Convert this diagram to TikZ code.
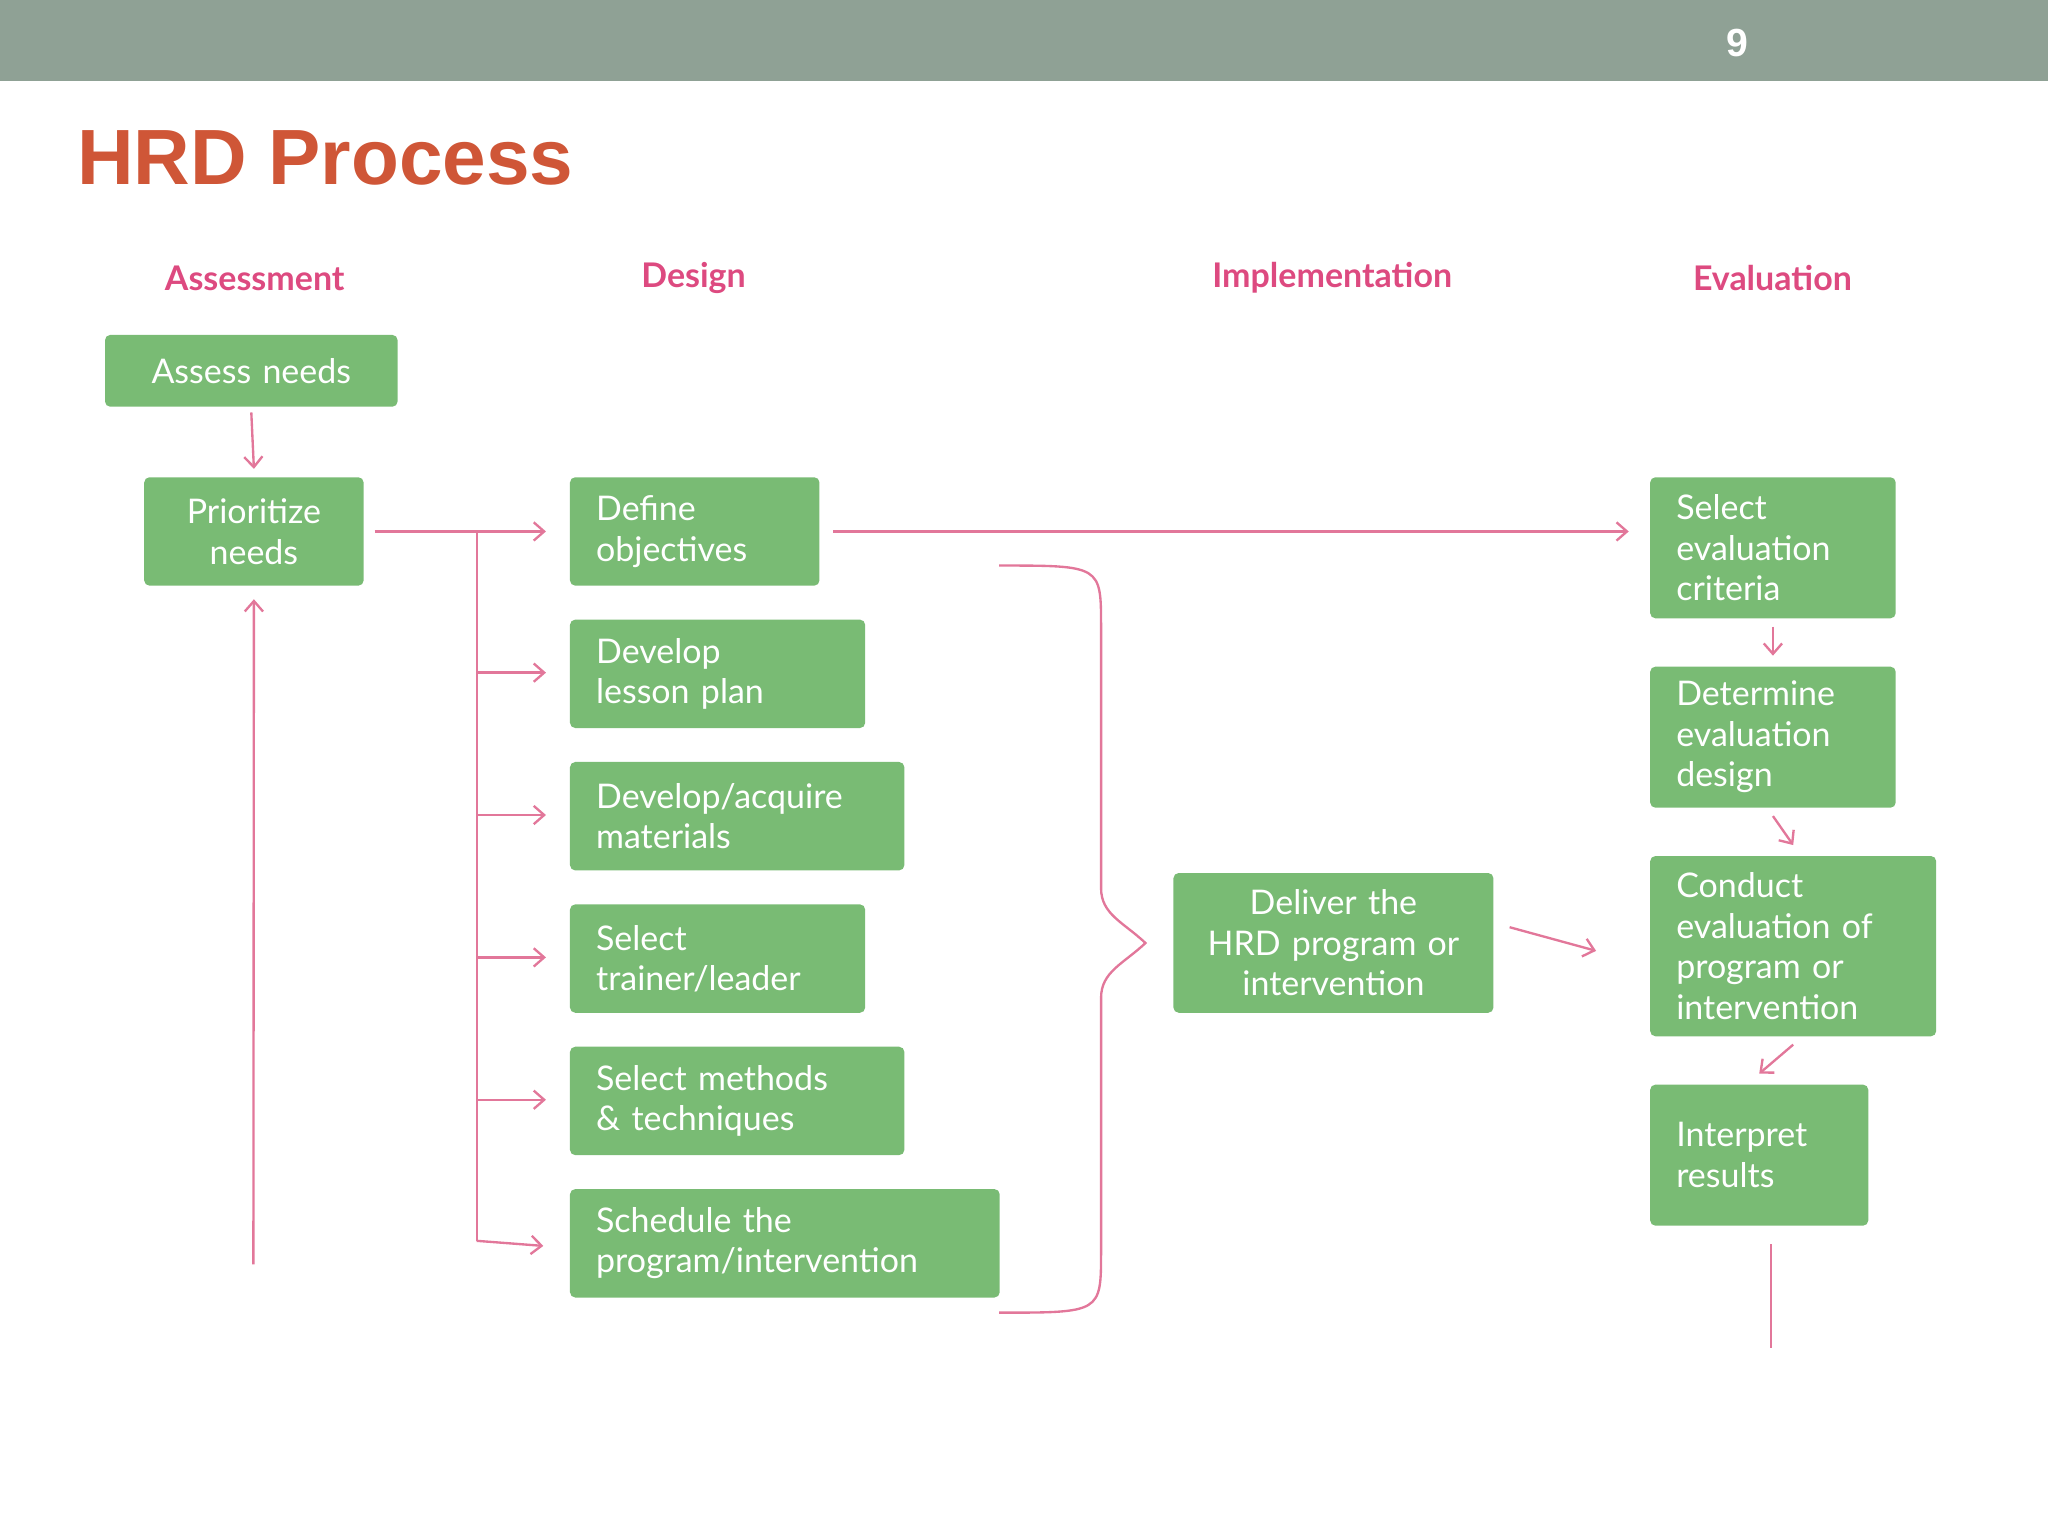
\documentclass[tikz,border=0pt]{standalone}
\usepackage{fontspec}
\setmainfont{Lato}
\newfontfamily\titlefont{Liberation Sans}
\usetikzlibrary{arrows.meta}
\definecolor{bar}{HTML}{8FA195}
\definecolor{ttl}{HTML}{CF5637}
\definecolor{hdr}{HTML}{DD4A80}
\definecolor{ln}{HTML}{E2779A}
\definecolor{grn}{HTML}{79BB74}
\begin{document}
\begin{tikzpicture}[x=0.5pt,y=-0.5pt,
  box/.style={fill=grn,rounded corners=2pt,text=white,inner xsep=10pt,inner ysep=0pt,font=\fontsize{13}{15.5}\selectfont,anchor=north west,align=left},
  hd/.style={text=hdr,font=\bfseries\fontsize{13}{15}\selectfont},
  con/.style={draw=ln,line width=0.9pt},
  arr/.style={con,-{Straight Barb[length=4pt,width=7pt]}}]
\useasboundingbox (0,0) rectangle (1568,1176);
\fill[bar] (0,0) rectangle (1568,62);
\node[text=white,font=\titlefont\bfseries\fontsize{15}{18}\selectfont] (pg) at (1330,33) {9};
\node[text=ttl,font=\titlefont\bfseries\fontsize{30}{34}\selectfont,anchor=west] (title) at (52,121) {HRD Process};
\node[hd] (h1) at (195,213) {Assessment};
\node[hd] (h2) at (531,213) {Design};
\node[hd] (h3) at (1020,213) {Implementation};
\node[hd] (h4) at (1357,213) {Evaluation};
% boxes: (x,y) top-left, width, height in px (half in pt)
\node[box,minimum width=112pt,minimum height=27.5pt,align=center,text width=92pt] (an) at (80,256) {Assess needs};
\node[box,minimum width=84pt,minimum height=41.5pt,align=center,text width=64pt] (pn) at (110,365) {Prioritize\\needs};
\node[box,minimum width=95.5pt,minimum height=41.5pt,text width=75.5pt] (do) at (436,365) {Define\\objectives};
\node[box,minimum width=113pt,minimum height=41.5pt,text width=93pt] (dl) at (436,474) {Develop\\lesson plan};
\node[box,minimum width=128pt,minimum height=41.5pt,text width=108pt] (dm) at (436,583) {Develop/acquire\\materials};
\node[box,minimum width=113pt,minimum height=41.5pt,text width=93pt] (st) at (436,692) {Select\\trainer/leader};
\node[box,minimum width=128pt,minimum height=41.5pt,text width=108pt] (sm) at (436,801) {Select methods\\\& techniques};
\node[box,minimum width=164.5pt,minimum height=41.5pt,text width=144.5pt] (sc) at (436,910) {Schedule the\\program/intervention};
\node[box,minimum width=122.5pt,minimum height=53.5pt,align=center,text width=114pt,inner xsep=4pt] (dv) at (898,668) {Deliver the\\HRD program or\\intervention};
\node[box,minimum width=94pt,minimum height=54pt,text width=74pt] (ec) at (1263,365) {Select\\evaluation\\criteria};
\node[box,minimum width=94pt,minimum height=54pt,text width=74pt] (ed) at (1263,510) {Determine\\evaluation\\design};
\node[box,minimum width=109.5pt,minimum height=69pt,text width=89.5pt] (ce) at (1263,655) {Conduct\\evaluation of\\program or\\intervention};
\node[box,minimum width=83.5pt,minimum height=54pt,text width=63.5pt] (ir) at (1263,830) {Interpret\\results};
% connectors
\draw[arr] ([yshift=-2pt]an.south) -- ([yshift=3pt]pn.north);
\coordinate (lb) at (194,968);
\draw[arr] (lb) -- ([yshift=-5pt]pn.south);
\coordinate (tr) at (365,406);
\coordinate (tb) at (365,950);
\draw[arr] ([xshift=4pt]pn.east) -- ([xshift=-9pt]do.west);
\draw[con] (tr) -- (tb);
\foreach \n/\y in {dl/515,dm/624,st/733,sm/842}{\coordinate (b\n) at (365,\y); \draw[arr] (b\n) -- (418,\y);}
\draw[arr] (tb) -- ([xshift=-10pt,yshift=-1pt]sc.west);
\draw[arr] ([xshift=5pt]do.east) -- ([xshift=-8pt]do.east -| ec.west);
\coordinate (br1) at (765,433);
\coordinate (br2) at (765,1005);
\coordinate (bp) at (877,722);
\draw[con] (br1) .. controls (843,433) .. (843,480) -- (843,680) .. controls (843,700) and (860,706) .. (bp)
  .. controls (860,738) and (843,744) .. (843,764) -- (843,958) .. controls (843,1005) .. (br2);
\draw[arr] ([xshift=6pt,yshift=6pt]dv.east) -- (1222,728);
\draw[arr] ([yshift=-3pt]ec.south) -- ([yshift=4pt]ed.north);
\draw[arr] ([yshift=-3pt]ed.south) -- ([yshift=4pt]ce.north);
\draw[arr] ([yshift=-3pt]ce.south) -- ([yshift=4pt]ir.north);
\coordinate (ee) at (1356,1032);
\draw[con] ([yshift=-7pt]ir.south -| ee) -- (ee);
\end{tikzpicture}
\end{document}
